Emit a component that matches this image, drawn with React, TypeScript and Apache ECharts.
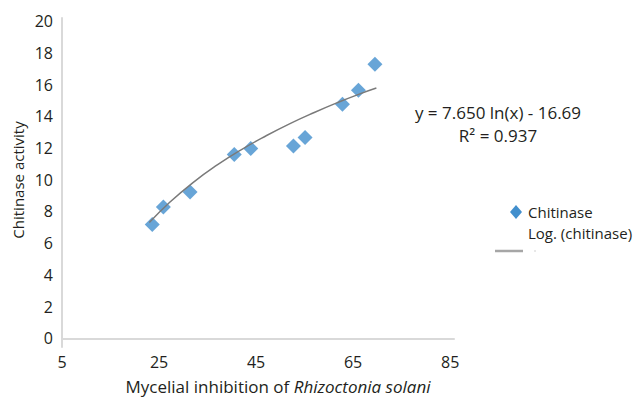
import React, { useEffect, useRef } from "react";
import * as echarts from "echarts";

const inhibition = [23.6, 25.9, 31.4, 40.5, 43.9, 52.7, 55.1, 62.8, 66.1, 69.5];
const chitinase = [7.17, 8.28, 9.23, 11.59, 11.97, 12.13, 12.66, 14.76, 15.65, 17.29];
const trendX = [23.0, 27, 32, 37, 42, 47, 52, 57, 62, 66, 69.8];
const trendY = [7.30, 8.52, 9.82, 10.93, 11.90, 12.76, 13.54, 14.24, 14.89, 15.37, 15.78];
const xTicks = [5, 25, 45, 65, 85];
const yTicks = [0, 2, 4, 6, 8, 10, 12, 14, 16, 18, 20];

const FONT = "'Open Sans', 'Noto Sans', sans-serif";
const TXT = "#231f20";
const BLUE = "#428fcd";

export default function App() {
  const ref = useRef<HTMLDivElement>(null);
  useEffect(() => {
    if (!ref.current) return;
    const chart = echarts.init(ref.current, undefined, { renderer: "svg" });
    chart.setOption({
      animation: false,
      textStyle: { fontFamily: FONT },
      grid: { left: 62, right: 184, top: 18, bottom: 50 },
      xAxis: {
        type: "value",
        min: 5,
        max: 85.8,
        splitLine: { show: false },
        axisLine: { show: true, lineStyle: { color: "#d9d9d9", width: 2 } },
        axisTick: { show: false },
        axisLabel: { customValues: xTicks, color: TXT, fontSize: 16, fontFamily: FONT, margin: 7 },
      },
      yAxis: {
        type: "value",
        min: -0.55,
        max: 20.2,
        splitLine: { show: false },
        axisLine: { show: true, lineStyle: { color: "#d9d9d9", width: 2 } },
        axisTick: { show: false },
        axisLabel: { customValues: yTicks, color: TXT, fontSize: 16, fontFamily: FONT, margin: 9 },
      },
      series: [
        {
          name: "Chitinase",
          type: "scatter",
          symbol: "diamond",
          symbolSize: 15,
          itemStyle: { color: BLUE },
          data: inhibition.map((x, i) => [x, chitinase[i]]),
          z: 2,
        },
        {
          name: "Log. (chitinase)",
          type: "line",
          smooth: true,
          showSymbol: false,
          symbol: "none",
          lineStyle: { color: "#7a7a7a", width: 1.5 },
          data: trendX.map((x, i) => [x, trendY[i]]),
          z: 3,
        },
      ],
      graphic: [
        {
          type: "text",
          x: 18,
          y: 180,
          rotation: Math.PI / 2,
          style: {
            text: "Chitinase activity",
            font: `15px ${FONT}`,
            fill: TXT,
            align: "center",
            verticalAlign: "middle",
          },
        },
        {
          type: "text",
          x: 278,
          y: 386,
          style: {
            text: "{n|Mycelial inhibition of }{i|Rhizoctonia solani}",
            align: "center",
            verticalAlign: "middle",
            rich: {
              n: { font: `17px ${FONT}`, fill: TXT },
              i: { font: `italic 17px ${FONT}`, fill: TXT },
            },
          },
        },
        {
          type: "text",
          x: 498,
          y: 112,
          style: {
            text: "y = 7.650 ln(x) - 16.69",
            font: `17px ${FONT}`,
            fill: TXT,
            align: "center",
            verticalAlign: "middle",
          },
        },
        {
          type: "text",
          x: 498,
          y: 135,
          style: {
            text: "R² = 0.937",
            font: `17px ${FONT}`,
            fill: TXT,
            align: "center",
            verticalAlign: "middle",
          },
        },
        {
          type: "polygon",
          shape: { points: [[516, 205], [522, 212], [516, 219], [510, 212]] },
          style: { fill: BLUE },
        },
        {
          type: "text",
          x: 528,
          y: 212,
          style: { text: "Chitinase", font: `15px ${FONT}`, fill: TXT, verticalAlign: "middle" },
        },
        {
          type: "text",
          x: 528,
          y: 233,
          style: { text: "Log. (chitinase)", font: `15px ${FONT}`, fill: TXT, verticalAlign: "middle" },
        },
        {
          type: "line",
          shape: { x1: 495, y1: 251, x2: 523, y2: 251 },
          style: { stroke: "#a6a6a6", lineWidth: 2.5 },
        },
        {
          type: "line",
          shape: { x1: 535, y1: 250, x2: 535, y2: 252 },
          style: { stroke: "#d0d0d0", lineWidth: 1 },
        },
      ],
    });
    return () => chart.dispose();
  }, []);
  return (
    <div
      ref={ref}
      style={{ position: "absolute", left: 0, top: 0, width: 638, height: 397 }}
    />
  );
}
